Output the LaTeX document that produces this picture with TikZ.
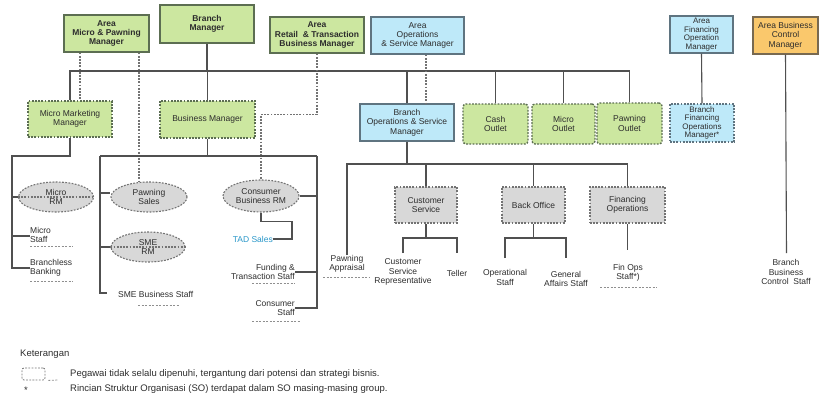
\documentclass[tikz,border=0pt]{standalone}
\usepackage{fontspec}
\setmainfont{Liberation Sans}
\usetikzlibrary{shapes.geometric}
\definecolor{gfill}{RGB}{204,231,160}
\definecolor{gline}{RGB}{92,110,82}
\definecolor{bfill}{RGB}{190,233,249}
\definecolor{bline}{RGB}{95,116,128}
\definecolor{ofill}{RGB}{250,200,108}
\definecolor{oline}{RGB}{120,105,80}
\definecolor{efill}{RGB}{216,216,216}
\definecolor{eline}{RGB}{115,115,115}
\definecolor{lc}{RGB}{80,80,80}
\definecolor{txt}{RGB}{45,45,45}
\definecolor{tadblue}{RGB}{40,150,200}
\newcommand\fs{\fontsize{8.5}{9.4}\selectfont}
\newcommand\fsn{\fontsize{8}{8.6}\selectfont}
\begin{document}
\begin{tikzpicture}[x=1pt,y=-1pt,
  every node/.style={font=\fs, text=txt},
  ln/.style={draw=lc, line width=1.1pt},
  dl/.style={draw=eline, line width=1.1pt, dash pattern=on 1.8pt off 1.4pt},
  ul/.style={draw=eline!80, line width=0.8pt, dash pattern=on 2pt off 1.5pt},
  bx/.style={draw, line width=1.1pt, align=center, inner sep=1pt},
  gsol/.style={bx, fill=gfill, draw=gline},
  gdash/.style={bx, fill=gfill, draw=gline, dash pattern=on 1.8pt off 1.4pt},
  gout/.style={bx, fill=gfill, draw=gline, line width=1.4pt, dash pattern=on 1.8pt off 1.4pt, rounded corners=3pt},
  bsol/.style={bx, fill=bfill, draw=bline},
  bdash/.style={bx, fill=bfill, draw=bline, dash pattern=on 1.8pt off 1.4pt},
  osol/.style={bx, fill=ofill, draw=oline},
  ell/.style={ellipse, draw=eline, fill=efill, line width=1.1pt, dash pattern=on 1.8pt off 1.4pt, align=center, inner sep=0pt},
  gbox/.style={bx, fill=efill, draw=eline, dash pattern=on 1.8pt off 1.4pt},
  plain/.style={align=center, inner sep=0pt},
]
\useasboundingbox (0,0) rectangle (824,407);

% ---- top level
\node[gsol, font=\fs\bfseries, minimum width=85, minimum height=37] (amp) at (106.5,33.5) {Area\\Micro \& Pawning\\Manager};
\node[gsol, font=\fs\bfseries, minimum width=94, minimum height=38] (bm) at (207,24) {Branch\\Manager};
\node[gsol, font=\fs\bfseries, minimum width=94, minimum height=36] (art) at (317,35) {Area\\Retail \ \& Transaction\\Business Manager};
\node[bsol, minimum width=93, minimum height=37] (aos) at (417.5,35.5) {Area\\Operations\\\& Service Manager};
\node[bsol, minimum width=63, minimum height=37, font=\fsn, inner sep=0pt] (afo) at (701.5,34.5) {Area\\Financing\\Operation\\Manager};
\node[osol, minimum width=65, minimum height=37] (abc) at (785.5,35.5) {Area Business\\Control\\Manager};

% ---- second level
\node[gdash, minimum width=84, minimum height=36] (mmm) at (70,119) {Micro Marketing\\Manager};
\node[gdash, minimum width=95, minimum height=37] (bizm) at (207.5,119.5) {Business Manager};
\node[bsol, minimum width=94, minimum height=37] (bosm) at (407,122.5) {Branch\\Operations \& Service\\Manager};
\node[gout, minimum width=65, minimum height=40] (cash) at (495.5,124) {Cash\\Outlet};
\node[gout, minimum width=63, minimum height=40] (mout) at (563.5,124) {Micro\\Outlet};
\node[gout, minimum width=65, minimum height=41] (pout) at (629.5,123.5) {Pawning\\Outlet};
\node[bdash, minimum width=64, minimum height=38, font=\fsn, inner sep=0pt] (bfom) at (702,123) {Branch\\Financing\\Operations\\Manager*};

% ---- third level (left)
\node[ell, minimum width=75, minimum height=30] (mrm) at (56,197) {Micro\\RM};
\node[ell, minimum width=76, minimum height=30] (psales) at (149,197) {Pawning\\Sales};
\node[ell, minimum width=74, minimum height=30] (smerm) at (148,247) {SME\\RM};
\node[ell, minimum width=76, minimum height=32] (cbrm) at (261,196) {Consumer\\Business RM};

\node[plain, align=left, anchor=west] (mstaff) at (30,235) {Micro\\Staff};
\node[plain, align=left, anchor=west] (bless) at (30,268) {Branchless\\Banking};
\node[plain, anchor=west] (smes) at (118,294) {SME Business Staff};
\node[plain, anchor=east, text=tadblue] (tad) at (273,239) {TAD Sales};
\node[plain, align=right, anchor=east] (fts) at (295,272) {Funding \&\\Transaction Staff};
\node[plain, align=right, anchor=east] (cstaff) at (295,308) {Consumer\\Staff};

% ---- third level (operations)
\node[gbox, minimum width=62, minimum height=36] (cs) at (426,205) {Customer\\Service};
\node[gbox, minimum width=63, minimum height=36] (bo) at (533.5,205) {Back Office};
\node[gbox, minimum width=75, minimum height=36] (fo) at (627.5,205) {Financing\\Operations};
\node[plain] (papp) at (347,264) {Pawning\\Appraisal};
\node[plain] (csr) at (403,272) {Customer\\Service\\Representative};
\node[plain] (tel) at (457,273) {Teller};
\node[plain] (ops) at (505,277.5) {Operational\\Staff};
\node[plain] (gas) at (566,279) {General\\Affairs Staff};
\node[plain] (fos) at (628,272.5) {Fin Ops\\Staff*)};
\node[plain] (bbcs) at (786,272) {Branch\\Business\\Control\ \ Staff};

% ---- legend
\node[plain, anchor=west, font=\fontsize{9.5}{11}\selectfont] (ket) at (20,354) {Keterangan};
\node[draw=eline, line width=0.8pt, dash pattern=on 1.8pt off 1.4pt, rounded corners=2pt, minimum width=23, minimum height=12, inner sep=0pt] (lgbox) at (33.5,374) {};
\coordinate (lgd) at (58,380);
\node[plain, anchor=west, font=\fontsize{9.5}{11}\selectfont] (lg1) at (70,374) {Pegawai tidak selalu dipenuhi, tergantung dari potensi dan strategi bisnis.};
\node[plain, font=\fontsize{9.5}{11}\selectfont] (star) at (26,390) {*};
\node[plain, anchor=west, font=\fontsize{9.5}{11}\selectfont] (lg2) at (70,389) {Rincian Struktur Organisasi (SO) terdapat dalam SO masing-masing group.};
\draw[ul] (lgbox.south east) ++(3,0) -- (lgd);

% ---- main bus
\coordinate (b1) at (0,71);
\draw[ln] (bm.south) -- (bm.south |- b1);
\draw[ln] (mmm.north) |- (pout.north |- b1) -- (pout.north);
\draw[ln] (bizm.north) -- (bizm.north |- b1);
\draw[ln] (bosm.north) -- (bosm.north |- b1);
\draw[ln] (cash.north) -- (cash.north |- b1);
\draw[ln] (mout.north) -- (mout.north |- b1);
\draw[ln] (afo.south) -- (bfom.north);
\coordinate (abcend) at (786.5,253);
\draw[ln] (abc.south) -- (abcend);

% dotted reporting lines
\draw[dl] ([xshift=-26.5pt]amp.south) -- ([xshift=-26.5pt]amp.south |- mmm.north);
\draw[dl] ([xshift=32.5pt]amp.south) -- ([xshift=-10pt]psales.north);
\draw[dl] (art.south) -- ++(0,61) -| (cbrm.north);
\draw[dl] ([xshift=8.5pt]aos.south) -- ([xshift=19pt]bosm.north);

% ---- micro marketing branch
\coordinate (l1) at (12,268);
\draw[ln] (mmm.south) |- (l1 |- 0,156) -- (l1) -- (bless.west |- l1);
\draw[ln] (l1 |- mrm) -- (mrm.west);
\draw[ln] (l1 |- 0,236) -- (mstaff.west |- 0,236);
\draw[dl] (mrm.west) -- (mrm.east);
\draw[ul] (30,246) -- (73,246);
\draw[ul] (30,281) -- (73,281);

% ---- business manager branch
\coordinate (v1) at (100,293);
\coordinate (v2) at (317,156);
\draw[ln] (bizm.south) -- (bizm.south |- v2);
\draw[ln] (v1 |- v2) -- (v2);
\draw[ln] (v1 |- v2) -- (v1) -- ++(7,0);
\draw[ln] (v1 |- 0,193) -- (psales.west |- 0,193);
\draw[ln] (v1 |- smerm) -- (smerm.west);
\draw[dl] (smerm.west) -- (smerm.east);
\draw[ln] (v2) -- (v2 |- cstaff.east) -- (cstaff.east);
\draw[ln] (cbrm.east) -- (v2 |- cbrm.east);
\draw[ln] (fts.east) -- (v2 |- fts.east);
\draw[ln] (cbrm.south) -- ++(0,9) -| ([xshift=19pt]tad.east) -- (tad.east);
\draw[ul] (138,305) -- (180,305);
\draw[ul] (252,283) -- (295,283);
\draw[ul] (252,321) -- (300,321);

% ---- operations branch
\coordinate (b3) at (0,164);
\draw[ln] (bosm.south) -- (bosm.south |- b3);
\draw[ln] (papp.north) -- ++(0,-9) |- (fo.north |- b3) -- (fo.north);
\draw[ln] (cs.north) -- (cs.north |- b3);
\draw[ln] (bo.north) -- (bo.north |- b3);
\coordinate (b4) at (0,238);
\draw[ln] (cs.south) -- (cs.south |- b4);
\draw[ln] (csr.north |- 0,253) |- (tel.north |- b4) -- (tel.north |- 0,253);
\draw[ln] (bo.south) -- (bo.south |- b4);
\draw[ln] (ops.north |- 0,258) |- (gas.north |- b4) -- (gas.north |- 0,258);
\draw[ln] (fo.south) -- (fo.south |- 0,250);
\draw[ul] (323,277) -- (370,277);
\draw[ul] (600,287) -- (657,287);
\end{tikzpicture}
\end{document}
